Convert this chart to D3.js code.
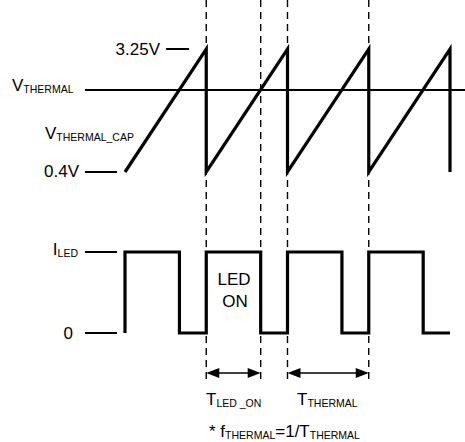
<!DOCTYPE html>
<html>
<head>
<meta charset="utf-8">
<script src="https://cdn.jsdelivr.net/npm/d3@7/dist/d3.min.js"></script>
<style>
  html, body { margin: 0; padding: 0; background: #fff; }
  text { font-family: "Liberation Sans", Arial, sans-serif; fill: #000; }
</style>
</head>
<body>
<svg id="chart" width="465" height="442"></svg>
<script>
// ---- data ----
// sawtooth (thermal capacitor voltage), time in thermal periods
const sawT = [0, 1, 1, 2, 2, 3, 3, 4, 4];
const sawV = [0.4, 3.25, 0.4, 3.25, 0.4, 3.25, 0.4, 3.25, 0.4];
const vThermal = 2.3;
const vTicks = [3.25, 0.4];
const vTickLabels = ["3.25V", "0.4V"];
// LED current (0 = off, 1 = ILED)
const ledT = [0, 0, 0.67, 0.67, 1, 1, 1.67, 1.67, 2, 2, 2.67, 2.67, 3, 3, 3.67, 3.67, 4];
const ledI = [0, 1, 1, 0, 0, 1, 1, 0, 0, 1, 1, 0, 0, 1, 1, 0, 0];
// markers
const dashT = [1, 1.67, 2, 3];
const spanLedOn = [1, 1.67];
const spanThermal = [2, 3];

// ---- scales ----
const x = d3.scaleLinear().domain([0, 4]).range([125, 450]);
const yV = d3.scaleLinear().domain([0.4, 3.25]).range([172, 49]);
const yI = d3.scaleLinear().domain([0, 1]).range([333, 252]);

const svg = d3.select("#chart");
const FS = 17, SFS = 10.5;

// dashed verticals
svg.selectAll("line.dash").data(dashT).join("line")
  .attr("class", "dash")
  .attr("x1", d => x(d)).attr("x2", d => x(d))
  .attr("y1", 0).attr("y2", 383)
  .attr("stroke", "#000").attr("stroke-width", 1.4)
  .attr("stroke-dasharray", "7,5");

// VTHERMAL threshold line
svg.append("line")
  .attr("x1", 85).attr("x2", 465)
  .attr("y1", yV(vThermal)).attr("y2", yV(vThermal))
  .attr("stroke", "#000").attr("stroke-width", 1.2)
  .attr("shape-rendering", "crispEdges");

// voltage tick marks
svg.append("line").attr("x1", 166).attr("x2", 189)
  .attr("y1", yV(vTicks[0])).attr("y2", yV(vTicks[0]))
  .attr("stroke", "#000").attr("stroke-width", 1.2)
  .attr("shape-rendering", "crispEdges");
svg.append("line").attr("x1", 85).attr("x2", 117)
  .attr("y1", yV(vTicks[1])).attr("y2", yV(vTicks[1]))
  .attr("stroke", "#000").attr("stroke-width", 1.2)
  .attr("shape-rendering", "crispEdges");

// current tick marks
svg.selectAll("line.itick").data([1, 0]).join("line")
  .attr("class", "itick")
  .attr("x1", 85).attr("x2", 117)
  .attr("y1", d => yI(d)).attr("y2", d => yI(d))
  .attr("stroke", "#000").attr("stroke-width", 1.2)
  .attr("shape-rendering", "crispEdges");

// sawtooth
const sawLine = d3.line().x((d, i) => x(sawT[i])).y((d, i) => yV(sawV[i]));
svg.append("path").attr("d", sawLine(sawT))
  .attr("fill", "none").attr("stroke", "#000").attr("stroke-width", 3.2)
  .attr("stroke-linejoin", "miter").attr("stroke-miterlimit", 10);

// LED current square wave
const ledLine = d3.line().x((d, i) => x(ledT[i])).y((d, i) => yI(ledI[i]));
svg.append("path").attr("d", ledLine(ledT))
  .attr("fill", "none").attr("stroke", "#000").attr("stroke-width", 3.2)
  .attr("stroke-linejoin", "miter");

// labels
function label(xp, yp, main, sub, anchor) {
  const t = svg.append("text").attr("x", xp).attr("y", yp)
    .attr("font-size", FS).attr("text-anchor", anchor || "start");
  t.append("tspan").text(main);
  if (sub) t.append("tspan").attr("font-size", SFS).attr("dy", 2).text(sub);
  return t;
}
label(160, yV(vTicks[0]) + 6, vTickLabels[0], null, "end");
label(79, yV(vTicks[1]) + 5, vTickLabels[1], null, "end");
label(12, yV(vThermal) + 1, "V", "THERMAL");
label(45, 139, "V", "THERMAL_CAP");
label(78, yI(1) + 3, "I", "LED", "end");
label(73, yI(0) + 6, "0", null, "end");

// LED ON
svg.append("text").attr("x", 234).attr("y", 285).attr("font-size", FS)
  .attr("text-anchor", "middle").text("LED");
svg.append("text").attr("x", 235).attr("y", 307).attr("font-size", FS)
  .attr("text-anchor", "middle").text("ON");

// double-headed arrows
const arrowY = 373;
function arrow(span) {
  const x1 = x(span[0]), x2 = x(span[1]);
  const L = 13, H = 5;
  svg.append("line").attr("x1", x1 + 4).attr("x2", x2 - 4)
    .attr("y1", arrowY).attr("y2", arrowY)
    .attr("stroke", "#000").attr("stroke-width", 1.5);
  svg.append("path")
    .attr("d", `M${x1},${arrowY}L${x1 + L},${arrowY - H}L${x1 + L},${arrowY + H}Z`)
    .attr("fill", "#000");
  svg.append("path")
    .attr("d", `M${x2},${arrowY}L${x2 - L},${arrowY - H}L${x2 - L},${arrowY + H}Z`)
    .attr("fill", "#000");
}
arrow(spanLedOn);
arrow(spanThermal);

label(206, 405, "T", "LED _ON");
label(297, 405, "T", "THERMAL");

// footnote
const fn = svg.append("text").attr("x", 209).attr("y", 437).attr("font-size", FS);
fn.append("tspan").text("* f");
fn.append("tspan").attr("font-size", SFS).attr("dy", 2).text("THERMAL");
fn.append("tspan").attr("dy", -2).text("=1/T");
fn.append("tspan").attr("font-size", SFS).attr("dy", 2).text("THERMAL");
</script>
</body>
</html>
